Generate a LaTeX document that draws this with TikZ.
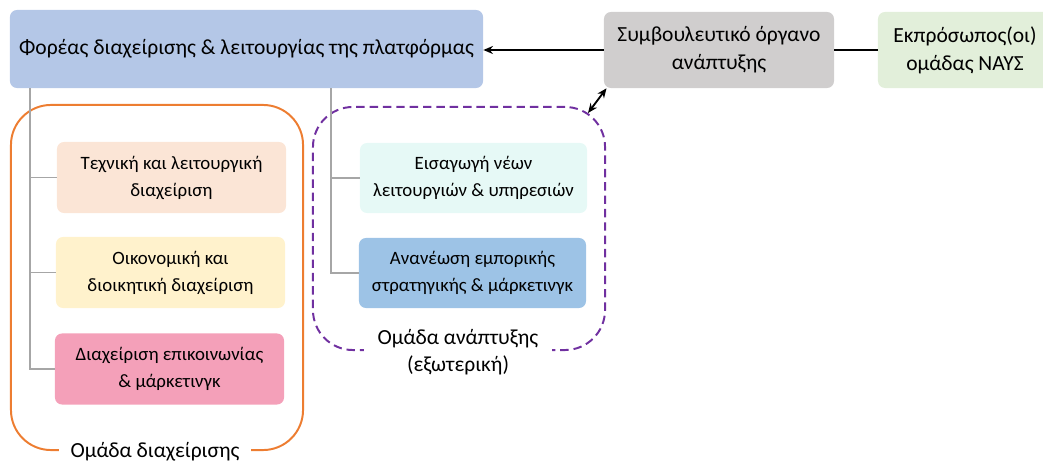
\documentclass[tikz,border=0pt]{standalone}
\usepackage{fontspec}
\setmainfont{Carlito}
\usepackage{tikz}
\usetikzlibrary{
  positioning,
  arrows.meta,
  calc
}
\usepackage{xcolor}
\definecolor{platform}{HTML}{B4C7E7}
\definecolor{advisory}{HTML}{D0CECE}
\definecolor{naus}{HTML}{E2EFDA}
\definecolor{techfill}{HTML}{FBE5D6}
\definecolor{econfill}{HTML}{FFF2CC}
\definecolor{commfill}{HTML}{F4A0B9}
\definecolor{newfill}{HTML}{E6F9F6}
\definecolor{stratfill}{HTML}{9DC3E6}
\definecolor{mgmt}{HTML}{ED7D31}
\definecolor{dev}{HTML}{7030A0}
\definecolor{branch}{HTML}{A6A6A6}

\begin{document}
\begin{tikzpicture}[
  x=0.025cm, y=-0.025cm,
  bigbox/.style={rounded corners=5pt, align=center, inner sep=0pt,
                 font=\fontsize{15.3}{20}\selectfont},
  unitbox/.style={rounded corners=5pt, align=center, inner sep=0pt,
                  minimum width=5.725cm, minimum height=1.775cm,
                  font=\fontsize{13.4}{19.2}\selectfont},
  frame/.style={rounded corners=1cm, line width=1.4pt, inner sep=0pt},
  grouplabel/.style={fill=white, align=center, inner xsep=8pt, inner ysep=1pt,
                     font=\fontsize{15.3}{19.2}\selectfont},
  tree/.style={branch, line width=1.3pt},
  arr/.style={-{Stealth[length=2.4mm, width=2mm]}, line width=1.3pt},
  link/.style={line width=1.3pt}
]
  \useasboundingbox (0,0) rectangle (1043,465);

  % top row
  \node[bigbox, fill=platform, minimum width=11.825cm, minimum height=1.95cm]
    (platform) at (246.5,49) {Φορέας διαχείρισης \& λειτουργίας της πλατφόρμας};
  \node[bigbox, fill=advisory, minimum width=5.75cm, minimum height=1.9cm]
    (advisory) at (719,50) {Συμβουλευτικό όργανο\\ανάπτυξης};
  \node[bigbox, fill=naus, minimum width=4.35cm, minimum height=1.9cm]
    (naus) at (965,50) {Εκπρόσωπος(οι)\\ομάδας ΝΑΥΣ};

  \draw[arr] (advisory.west) -- (advisory.west -| platform.east);
  \draw[link] (advisory.east) -- (naus.west);

  % management group
  \node[frame, draw=mgmt, minimum width=7.3cm, minimum height=8.625cm]
    (mgmtframe) at (157,277.5) {};
  \node[unitbox, fill=techfill] (tech) at (171.5,177.5)
    {Τεχνική και λειτουργική\\διαχείριση};
  \node[unitbox, fill=econfill] (econ) at (170.5,272.5)
    {Οικονομική και\\διοικητική διαχείριση};
  \node[unitbox, fill=commfill] (comm) at (169.5,369)
    {Διαχείριση επικοινωνίας\\\& μάρκετινγκ};
  \node[grouplabel] (mgmtlabel) at (155,452) {Ομάδα διαχείρισης};

  % development group
  \node[frame, draw=dev, dashed, dash pattern=on 6pt off 3.5pt,
        minimum width=7.3cm, minimum height=6.075cm]
    (devframe) at (459,228.5) {};
  \node[unitbox, fill=newfill, minimum width=5.675cm, minimum height=1.75cm]
    (newserv) at (473.5,178) {Εισαγωγή νέων\\λειτουργιών \& υπηρεσιών};
  \node[unitbox, fill=stratfill, minimum width=5.675cm, minimum height=1.75cm]
    (strat) at (472.5,273) {Ανανέωση εμπορικής\\στρατηγικής \& μάρκετινγκ};
  \node[grouplabel, inner xsep=10pt] (devlabel) at (458,352)
    {Ομάδα ανάπτυξης\\(εξωτερική)};

  % branches
  \coordinate (mgmtroot) at ([xshift=0.5cm]platform.south west);
  \coordinate (devroot) at ([xshift=8.025cm]platform.south west);
  \draw[tree] (mgmtroot) |- (tech.west);
  \draw[tree] (mgmtroot) |- (econ.west);
  \draw[tree] (mgmtroot) |- (comm.west);
  \draw[tree] (devroot) |- (newserv.west);
  \draw[tree] (devroot) |- (strat.west);

  \coordinate (devcorner) at (588,113);
  \draw[arr, {Stealth[length=2.4mm, width=2mm]}-{Stealth[length=2.4mm, width=2mm]}]
    ([xshift=0.07cm]advisory.south west) -- (devcorner);
\end{tikzpicture}
\end{document}
